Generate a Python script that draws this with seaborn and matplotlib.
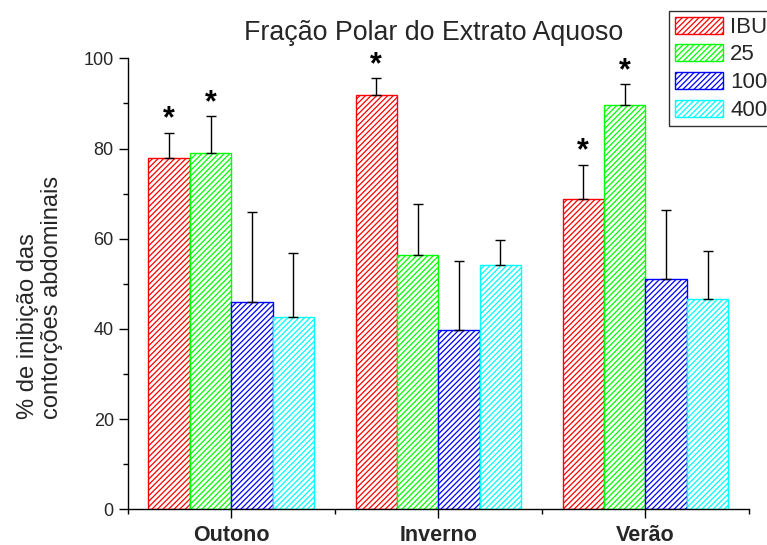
import numpy as np
import pandas as pd
import matplotlib
matplotlib.use("Agg")
import matplotlib.pyplot as plt
from matplotlib.patches import Patch
from matplotlib.ticker import MultipleLocator, FixedLocator
import seaborn as sns

seasons = ["Outono", "Inverno", "Verão"]
groups = ["IBU", "25", "100", "400"]
colors = ["#FF0000", "#00FF00", "#0000FF", "#00FFFF"]

ibu = [78.0, 91.8, 68.9]
d25 = [79.1, 56.4, 89.6]
d100 = [46.0, 39.7, 51.1]
d400 = [42.6, 54.1, 46.6]

err_ibu = [5.5, 3.8, 7.5]
err_25 = [8.0, 11.2, 4.6]
err_100 = [19.9, 15.3, 15.2]
err_400 = [14.2, 5.7, 10.6]

sig_ibu = [True, True, True]
sig_25 = [True, False, True]
sig_100 = [False, False, False]
sig_400 = [False, False, False]

title = "Fração Polar do Extrato Aquoso"
ylabel = "% de inibição das\ncontorções abdominais"

values = [ibu, d25, d100, d400]
errors = [err_ibu, err_25, err_100, err_400]
sigs = [sig_ibu, sig_25, sig_100, sig_400]

df = pd.DataFrame({
    "season": [s for g in groups for s in seasons],
    "group": [g for g in groups for s in seasons],
    "value": [v for vals in values for v in vals],
})

sns.set_style("ticks")
plt.rcParams["font.family"] = ["Liberation Sans", "DejaVu Sans"]
plt.rcParams["hatch.linewidth"] = 0.9

fig = plt.figure(figsize=(7.67, 5.45), dpi=100)
ax = fig.add_axes([0.1665, 0.0655, 0.810, 0.8275])

sns.barplot(data=df, x="season", y="value", hue="group", order=seasons,
            hue_order=groups, palette=colors, errorbar=None, width=0.8,
            ax=ax, legend=False)

bar_conts = list(ax.containers)
for i, cont in enumerate(bar_conts):
    col = colors[i]
    xs = []
    for p in cont.patches:
        p.set_facecolor("white")
        p.set_edgecolor(col)
        p.set_hatch("//////")
        p.set_linewidth(1.0)
        xs.append(p.get_x() + p.get_width() / 2)
    xs = np.array(xs)
    vals = np.array(values[i])
    errs = np.array(errors[i])
    ax.errorbar(xs, vals, yerr=[np.zeros_like(errs), errs], fmt="none",
                ecolor="black", elinewidth=1.0, capsize=3.5, capthick=1.0,
                zorder=3)
    for x, v, e, s in zip(xs, vals, errs, sigs[i]):
        if s:
            ax.text(x, v + e - 0.4, "*", ha="center", va="bottom",
                    fontsize=22, fontweight="bold", color="black")

ax.set_xlim(-0.5, 2.5)
ax.set_ylim(0, 100)
ax.yaxis.set_major_locator(MultipleLocator(20))
ax.yaxis.set_minor_locator(MultipleLocator(10))
ax.xaxis.set_minor_locator(FixedLocator([-0.5, 0.5, 1.5, 2.5]))
sns.despine(ax=ax)
for sp in ["left", "bottom"]:
    ax.spines[sp].set_linewidth(1.0)
    ax.spines[sp].set_color("black")
ax.tick_params(axis="both", which="major", direction="out", length=6.5,
               width=1.0, color="black", labelsize=13)
ax.tick_params(axis="x", which="major", pad=4.5)
ax.tick_params(axis="both", which="minor", direction="out", length=3.6,
               width=1.0, color="black")
ax.set_xticks(range(len(seasons)))
ax.set_xticklabels(seasons, fontweight="bold", fontsize=15.5)
ax.set_xlabel("")
ax.set_ylabel(ylabel, fontsize=17, linespacing=1.1, multialignment="left")
ax.yaxis.set_label_coords(-0.104, 0.47)
fig.text(0.566, 0.94, title, ha="center", va="center", fontsize=19.3)

handles = [Patch(facecolor="white", edgecolor=c, hatch="//////", linewidth=1.0)
           for c in colors]
leg = fig.legend(handles, groups, loc="upper left",
                 bbox_to_anchor=(669 / 767, 1 - 11 / 545),
                 bbox_transform=fig.transFigure, fontsize=16,
                 frameon=True, fancybox=False, handlelength=2.2,
                 handleheight=0.8, labelspacing=0.29, handletextpad=0.3,
                 borderpad=0.25, borderaxespad=0)
leg.get_frame().set_edgecolor("black")
leg.get_frame().set_linewidth(1.0)

fig.savefig("out.png", dpi=100)
